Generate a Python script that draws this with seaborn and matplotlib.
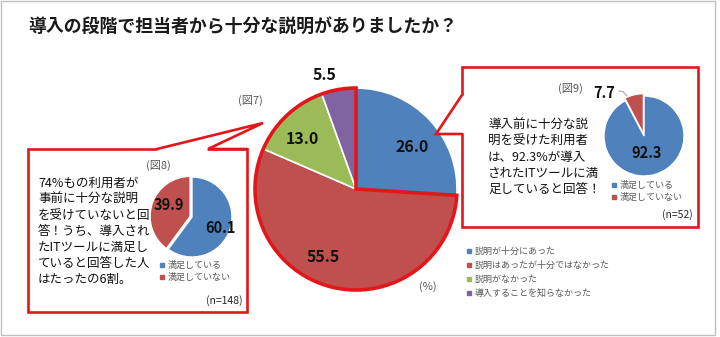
import matplotlib
matplotlib.use("Agg")
import matplotlib.pyplot as plt
import seaborn as sns
from matplotlib.patches import Rectangle, Polygon
from matplotlib.lines import Line2D

# ---------------- data ----------------
TITLE = "導入の段階で担当者から十分な説明がありましたか？"
main_labels = ["説明が十分にあった", "説明はあったが十分ではなかった",
               "説明がなかった", "導入することを知らなかった"]
main_values = [26.0, 55.5, 13.0, 5.5]
sub_labels = ["満足している", "満足していない"]
fig8_values = [60.1, 39.9]
fig9_values = [92.3, 7.7]
fig8_text = ["74%もの利用者が", "事前に十分な説明", "を受けていないと回",
             "答！うち、導入され", "たITツールに満足し", "ていると回答した人",
             "はたったの6割。"]
fig9_text = ["導入前に十分な説", "明を受けた利用者", "は、92.3%が導入",
             "されたITツールに満", "足していると回答！"]

# ---------------- style ----------------
sns.set_theme(style="white")
plt.rcParams["font.family"] = ["Noto Sans CJK JP", "DejaVu Sans"]

colors = sns.color_palette(["#4F81BD", "#C0504D", "#9BBB59", "#8064A2"])
RED = "#E3161B"
GRAY = "#595959"

W, H = 720, 337
fig = plt.figure(figsize=(7.2, 3.37), dpi=100)

bg = fig.add_axes([0, 0, 1, 1])
bg.set_xlim(0, W); bg.set_ylim(H, 0); bg.axis("off"); bg.set_zorder(0)
fg = fig.add_axes([0, 0, 1, 1])
fg.set_xlim(0, W); fg.set_ylim(H, 0); fg.axis("off"); fg.set_zorder(2)
fg.patch.set_alpha(0)

# outer frame
bg.add_patch(Rectangle((1, 1), 714, 334, fill=False, edgecolor="#BFBFBF", lw=1))
# callout boxes
bg.add_patch(Rectangle((28, 149), 219, 163, facecolor="white", edgecolor=RED, lw=1.9))
bg.add_patch(Rectangle((462, 67), 236, 160, facecolor="white", edgecolor=RED, lw=1.9))


def pie_ax(cx, cy, r, pad=1.12):
    s = 2 * r * pad
    ax = fig.add_axes([(cx - s / 2) / W, 1 - (cy + s / 2) / H, s / W, s / H])
    ax.set_zorder(1)
    ax.patch.set_alpha(0)
    return ax


def finish(ax, pad=1.12):
    ax.set_xlim(-pad, pad); ax.set_ylim(-pad, pad)
    ax.set_aspect("equal"); ax.axis("off")


# ---------------- main pie (図7) ----------------
ax = pie_ax(356, 189, 101)
ax.pie(main_values, colors=colors, startangle=90, counterclock=False,
       wedgeprops=dict(edgecolor="white", linewidth=1.2))
outline, _ = ax.pie([main_values[0], sum(main_values[1:])], startangle=90,
                    counterclock=False, colors=["none", "none"],
                    wedgeprops=dict(linewidth=0))
outline[0].set_visible(False)
outline[1].set_edgecolor(RED)
outline[1].set_linewidth(2.6)
outline[1].set_joinstyle("miter")
finish(ax)

# ---------------- sub pie (図8) ----------------
ax8 = pie_ax(192, 217, 40)
ax8.pie(fig8_values, colors=colors[:2], startangle=90, counterclock=False,
        explode=[0, 0.05], wedgeprops=dict(edgecolor="white", linewidth=1))
finish(ax8)

# ---------------- sub pie (図9) ----------------
ax9 = pie_ax(644, 136, 40)
ax9.pie(fig9_values, colors=colors[:2], startangle=90, counterclock=False,
        explode=[0, 0.06], wedgeprops=dict(edgecolor="white", linewidth=1))
finish(ax9)

# ---------------- callouts ----------------
fg.add_patch(Polygon([(158, 151.5), (157, 149), (263, 123), (208, 149), (207, 151.5)],
                     closed=True, facecolor="white", edgecolor="none"))
fg.plot([157, 263, 208, 247], [149, 123, 149, 149], color=RED, lw=1.9,
        solid_joinstyle="miter")
fg.add_patch(Polygon([(464.5, 96), (462, 95), (436, 134), (462, 134), (464.5, 133)],
                     closed=True, facecolor="white", edgecolor="none"))
fg.plot([462, 436, 462], [95, 134, 134], color=RED, lw=1.9, solid_joinstyle="miter")

# ---------------- texts ----------------
fg.text(28, 27, TITLE, fontsize=12.9, fontweight="bold", color="#1A1A1A",
        ha="left", va="center")

lab = dict(fontsize=11.5, fontweight="bold", color="#111111", ha="center", va="center")
main_pos = [(412, 147), (323, 257), (302, 139), (325, 75)]
for v, (x, y) in zip(main_values, main_pos):
    fg.text(x, y, f"{v:.1f}", **lab)

sub = dict(fontsize=10.5, fontweight="bold", color="#111111", ha="center", va="center")
for v, (x, y) in zip(fig8_values, [(220, 228), (169, 205)]):
    fg.text(x, y, f"{v:.1f}", **sub)
for v, (x, y) in zip(fig9_values, [(647, 153), (604, 93)]):
    fg.text(x, y, f"{v:.1f}", **sub)
fg.plot([619, 623, 627], [91, 91.5, 96], color="#A6A6A6", lw=0.8)

note = dict(fontsize=8, color=GRAY, ha="center", va="center")
fg.text(250, 100, "(図7)", **note)
fg.text(158, 165, "(図8)", **note)
fg.text(570, 88, "(図9)", **note)
fg.text(428, 287, "(%)", **note)
fg.text(243, 301, "(n=148)", fontsize=7.5, color="#262626", ha="right", va="center")
fg.text(693, 215, "(n=52)", fontsize=7.5, color="#262626", ha="right", va="center")

for i, line in enumerate(fig8_text):
    fg.text(38, 183 + 16.1 * i, line, fontsize=9, color="#111111", ha="left", va="center")
for i, line in enumerate(fig9_text):
    fg.text(488, 125 + 16.2 * i, line, fontsize=9, color="#111111", ha="left", va="center")

# ---------------- legends ----------------
def handles(cols):
    return [Line2D([], [], marker="s", ls="", color=c, markersize=3) for c in cols]

leg_kw = dict(loc="upper left", frameon=False, handlelength=0.6, handletextpad=0.4,
              borderpad=0, borderaxespad=0, labelcolor=GRAY)
fig.legend(handles(colors), main_labels, bbox_to_anchor=(466 / W, 1 - 247 / H),
           fontsize=6.5, labelspacing=0.55, **leg_kw)
fig.legend(handles(colors[:2]), sub_labels, bbox_to_anchor=(159 / W, 1 - 261 / H),
           fontsize=6.5, labelspacing=0.35, **leg_kw)
fig.legend(handles(colors[:2]), sub_labels, bbox_to_anchor=(611 / W, 1 - 181 / H),
           fontsize=6.5, labelspacing=0.35, **leg_kw)

fig.savefig("out.png", dpi=100)
